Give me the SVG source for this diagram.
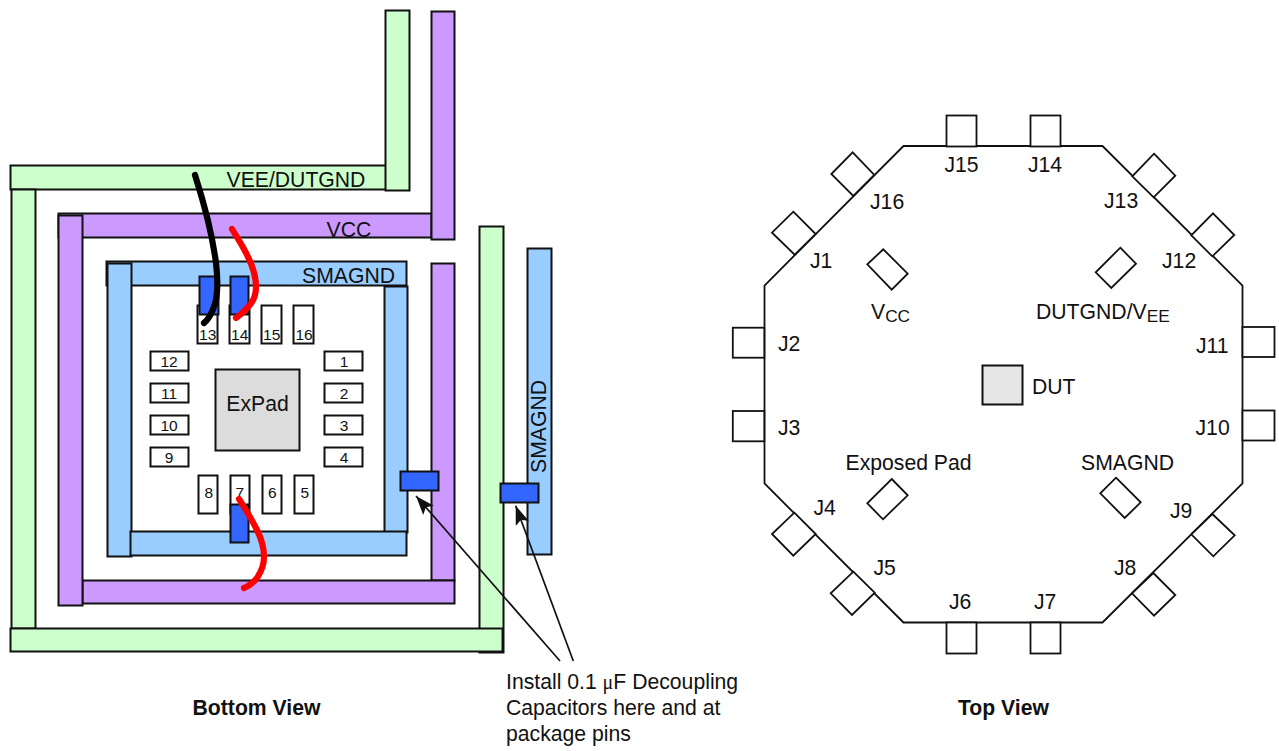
<svg xmlns="http://www.w3.org/2000/svg" width="1279" height="751" viewBox="0 0 1279 751">
<style>
text{font-family:"Liberation Sans",Arial,sans-serif;fill:#111;font-size:21.200px}
.g{fill:#ccffcc;stroke:#111;stroke-width:2}
.p{fill:#cc99ff;stroke:#111;stroke-width:2}
.b{fill:#99ccff;stroke:#111;stroke-width:2}
.pin{fill:#fff;stroke:#111;stroke-width:2}
.cap{fill:#3366ff;stroke:#111;stroke-width:2}
.j{fill:#fff;stroke:#111;stroke-width:1.800}
.n{font-size:15.500px;text-anchor:middle}
.m{text-anchor:middle}
.w{fill:none;stroke-linecap:round;stroke-width:6.200}
.l{font-weight:bold;text-anchor:middle}
.s{font-size:17.300px}
</style>
<defs><marker id="a" markerUnits="userSpaceOnUse" markerWidth="21" markerHeight="16" refX="19" refY="7" orient="auto"><path d="M0 0L19 7L0 14L4 7Z" fill="#111"/></marker></defs>
<g id="traces">
<rect class="g" x="10.500" y="165.500" width="376" height="24"/>
<rect class="g" x="385.500" y="10.500" width="24" height="180"/>
<rect class="g" x="11.500" y="189.500" width="24" height="439"/>
<rect class="g" x="479.500" y="226.500" width="24" height="426"/>
<rect class="g" x="10.500" y="628.500" width="492" height="23"/>
<rect class="p" x="58.500" y="213.500" width="373" height="24"/>
<rect class="p" x="431.500" y="11.500" width="23" height="228"/>
<rect class="p" x="431.500" y="263.500" width="23" height="317"/>
<rect class="p" x="82.500" y="580.500" width="372" height="23"/>
<rect class="p" x="58.500" y="215.500" width="24" height="390"/>
<rect class="b" x="106.500" y="261.500" width="300" height="24"/>
<rect class="b" x="107.500" y="263.500" width="24" height="293"/>
<rect class="b" x="384.500" y="286.500" width="23" height="246"/>
<rect class="b" x="130.500" y="531.500" width="276" height="24"/>
<rect class="b" x="527.500" y="248.500" width="24" height="306"/>
</g>
<g id="pins">
<rect class="pin" x="197.500" y="305.500" width="20" height="38"/><text class="n" x="207.700" y="339.500">13</text>
<rect class="pin" x="229.500" y="305.500" width="20" height="38"/><text class="n" x="239.700" y="339.500">14</text>
<rect class="pin" x="261.500" y="305.500" width="20" height="38"/><text class="n" x="271.700" y="339.500">15</text>
<rect class="pin" x="293.500" y="305.500" width="20" height="38"/><text class="n" x="304" y="339.500">16</text>
<rect class="pin" x="150.500" y="351.500" width="38" height="19"/><text class="n" x="169" y="367">12</text>
<rect class="pin" x="150.500" y="383.500" width="38" height="19"/><text class="n" x="169" y="399">11</text>
<rect class="pin" x="150.500" y="415.500" width="38" height="19"/><text class="n" x="169" y="431">10</text>
<rect class="pin" x="150.500" y="447.500" width="38" height="19"/><text class="n" x="169" y="463">9</text>
<rect class="pin" x="324.500" y="351.500" width="38" height="19"/><text class="n" x="344" y="367">1</text>
<rect class="pin" x="324.500" y="383.500" width="38" height="19"/><text class="n" x="344" y="399">2</text>
<rect class="pin" x="324.500" y="415.500" width="38" height="19"/><text class="n" x="344" y="431">3</text>
<rect class="pin" x="324.500" y="447.500" width="38" height="19"/><text class="n" x="344" y="463">4</text>
<rect class="pin" x="198.500" y="475.500" width="19" height="38"/><text class="n" x="208.700" y="498">8</text>
<rect class="pin" x="230.500" y="475.500" width="19" height="38"/><text class="n" x="239.700" y="498">7</text>
<rect class="pin" x="262.500" y="475.500" width="19" height="38"/><text class="n" x="272.300" y="498">6</text>
<rect class="pin" x="294.500" y="475.500" width="19" height="38"/><text class="n" x="304.700" y="498">5</text>
<rect id="expad" x="215.500" y="369.500" width="84" height="81" fill="#dcdcdc" stroke="#111" stroke-width="2"/>
</g>
<g id="caps">
<rect class="cap" x="199.500" y="276.500" width="19" height="38"/>
<rect class="cap" x="230.500" y="276.500" width="18" height="38"/>
<rect class="cap" x="230.500" y="504.500" width="18" height="38"/>
<rect class="cap" x="400.500" y="471.500" width="38" height="19"/>
<rect class="cap" x="500.500" y="483.500" width="38" height="19"/>
</g>
<g id="connectors">
<path class="w" stroke="#000" d="M195 175C203 200 212 232 216 263C218 280 218 293 215 304C212 313 209 319 204 323"/>
<path class="w" stroke="#f00" d="M232 229C238 239 244 248 248 257C253 267 256 277 256 287C256 296 253 302 248 307C244 312 240 315 236 318"/>
<path class="w" stroke="#f00" d="M239 499C246 510 252 520 257 530C262 540 264 548 264 557C264 565 261 572 257 578C253 583 249 586 244 588"/>
<path d="M560 661L416 496" stroke="#111" stroke-width="1.700" fill="none" marker-end="url(#a)"/>
<path d="M573.300 661L515.700 505.700" stroke="#111" stroke-width="1.700" fill="none" marker-end="url(#a)"/>
</g>
<g id="bottom-labels">
<text x="226.500" y="187">VEE/DUTGND</text>
<text x="326.500" y="236.800">VCC</text>
<text x="302" y="283">SMAGND</text>
<text x="546" y="473" transform="rotate(-90 546 473)">SMAGND</text>
<text class="m" x="257.500" y="410.500">ExPad</text>
<text x="506" y="688.600">Install 0.1 <tspan font-family="Liberation Serif,serif" font-size="20">μ</tspan>F Decoupling</text>
<text x="506" y="714.600">Capacitors here and at</text>
<text x="506" y="741">package pins</text>
<text class="l" x="256.500" y="714.600">Bottom View</text>
<text class="l" x="1003.500" y="714.600">Top View</text>
</g>
<g id="top-view">
<path d="M903.500 146H1102.500L1242.500 285.500V483.500L1102.500 622.500H903.500L764.500 483.500V285.500Z" fill="#fff" stroke="#111" stroke-width="1.800"/>
<g id="J15"><rect class="j" x="946.500" y="115.500" width="30" height="31"/><text class="m" x="961.500" y="172.300">J15</text></g>
<g id="J14"><rect class="j" x="1030.500" y="115.500" width="30" height="31"/><text class="m" x="1045" y="172.300">J14</text></g>
<g id="J16"><path class="j" d="M852.700 152.300L874.300 175L853.300 196L831.300 174Z"/><text x="870" y="208.500">J16</text></g>
<g id="J1"><path class="j" d="M793.300 211.700L815.700 234L794.700 254.700L772 232.700Z"/><text x="810" y="267.500">J1</text></g>
<g id="J13"><path class="j" d="M1154 153.700L1175.300 175.700L1153.700 197.300L1132.300 176.300Z"/><text x="1104" y="207.500">J13</text></g>
<g id="J12"><path class="j" d="M1213 213.300L1234.300 235L1212.300 256.300L1191.300 235.300Z"/><text x="1162" y="267.500">J12</text></g>
<g id="J2"><rect class="j" x="732.800" y="327.700" width="31.500" height="30"/><text x="778" y="350.500">J2</text></g>
<g id="J3"><rect class="j" x="732.800" y="411" width="31.500" height="30.300"/><text x="778" y="435">J3</text></g>
<g id="J11"><rect class="j" x="1242.500" y="327" width="32" height="30"/><text x="1196" y="352.500">J11</text></g>
<g id="J10"><rect class="j" x="1242.500" y="410.500" width="32" height="30"/><text x="1195.500" y="435">J10</text></g>
<g id="J4"><path class="j" d="M794.300 512.700L815.700 534L793.300 555.700L772 534Z"/><text x="813.500" y="515">J4</text></g>
<g id="J5"><path class="j" d="M853.300 571.700L874.700 592.700L852 615L830.700 593.300Z"/><text x="873.500" y="575">J5</text></g>
<g id="J9"><path class="j" d="M1212.300 514L1234.700 535.300L1213.300 556.300L1191.300 534.300Z"/><text x="1170" y="518.300">J9</text></g>
<g id="J8"><path class="j" d="M1153.300 573L1175.300 595L1154 615.700L1132 593.300Z"/><text x="1114" y="575">J8</text></g>
<g id="J6"><rect class="j" x="946.500" y="622.500" width="30" height="31"/><text x="949" y="609">J6</text></g>
<g id="J7"><rect class="j" x="1030.500" y="622.500" width="30" height="31"/><text x="1034" y="609">J7</text></g>
<path class="j" d="M883.300 249.300L907.700 273.700L891.700 289.700L867.300 264.300Z"/>
<path class="j" d="M1120.300 247.700L1136 263.700L1111.300 288L1095.700 272.300Z"/>
<path class="j" d="M891.700 479L907.700 495.300L883 519.300L867.300 503.300Z"/>
<path class="j" d="M1116 477.700L1140.700 502.300L1124.700 518L1100.300 493.300Z"/>
<rect id="dut" x="982.500" y="365.500" width="40" height="39" fill="#e6e6e6" stroke="#111" stroke-width="2"/>
<text x="1032" y="393.500">DUT</text>
<text x="871" y="319">V<tspan class="s" dy="3">CC</tspan></text>
<text x="1036" y="319">DUTGND/V<tspan class="s" dy="3">EE</tspan></text>
<text x="845.500" y="469.700">Exposed Pad</text>
<text x="1081" y="469.700">SMAGND</text>
</g>
</svg>
